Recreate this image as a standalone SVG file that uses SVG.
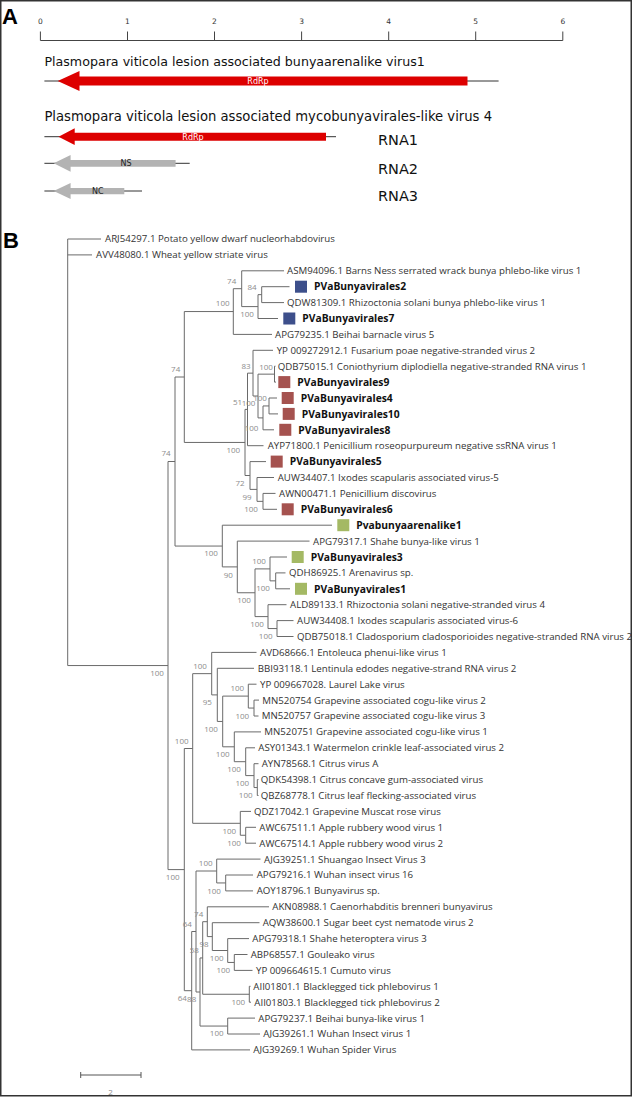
<svg xmlns="http://www.w3.org/2000/svg" width="633" height="1097" viewBox="0 0 633 1097">
<style>
.lf{font-family:"Open Sans","Noto Sans",sans-serif;font-size:9.7px;fill:#333}
.pv{font-family:"Open Sans","Noto Sans",sans-serif;font-size:10.3px;font-weight:bold;fill:#111}
.bs{font-family:"Open Sans","Noto Sans",sans-serif;font-size:8px;fill:#8c8c8c;text-anchor:middle}
.br{fill:none;stroke:#6a6a6a;stroke-width:1}
.ttl{font-family:"DejaVu Sans",sans-serif;font-size:12.65px;fill:#111}
.rna{font-family:"DejaVu Sans",sans-serif;font-size:14.5px;fill:#111}
.gl{font-family:"DejaVu Sans",sans-serif;font-size:8px;text-anchor:middle}
.pl{font-family:"Liberation Sans",Arial,sans-serif;font-size:22px;font-weight:bold;fill:#000}
.ax{font-family:"DejaVu Sans",sans-serif;font-size:7.5px;fill:#333;text-anchor:middle}
.sb{fill:#3d4f8b}.sr{fill:#a5524f}.sg{fill:#a4b964}
</style>
<rect x="0.75" y="0.75" width="630.5" height="1095" fill="#fff" stroke="#333" stroke-width="1.5"/>

<!-- Panel A -->
<text class="pl" x="2" y="24">A</text>
<g id="ruler">
<path d="M40.4,40.5H562.8M40.4,31.5V40.5M127.5,31.5V40.5M214.5,31.5V40.5M301.6,31.5V40.5M388.7,31.5V40.5M475.7,31.5V40.5M562.8,31.5V40.5" fill="none" stroke="#444" stroke-width="1"/>
<text class="ax" x="40.4" y="23.5">0</text>
<text class="ax" x="127.5" y="23.5">1</text>
<text class="ax" x="214.5" y="23.5">2</text>
<text class="ax" x="301.6" y="23.5">3</text>
<text class="ax" x="388.7" y="23.5">4</text>
<text class="ax" x="475.7" y="23.5">5</text>
<text class="ax" x="562.8" y="23.5">6</text>
</g>
<g id="virus1">
<text class="ttl" x="44.4" y="66">Plasmopara viticola lesion associated bunyaarenalike virus1</text>
<path d="M44.4,81H498.6" stroke="#333" stroke-width="1"/>
<polygon points="57.7,81 79.5,71 79.5,76.5 467.5,76.5 467.5,85.5 79.5,85.5 79.5,91" fill="#dd0000"/>
<text class="gl" x="258" y="84" fill="#fff">RdRp</text>
</g>
<g id="virus4">
<text class="ttl" x="44.4" y="121" style="font-size:13.2px">Plasmopara viticola lesion associated mycobunyavirales-like virus 4</text>
<path d="M44.4,136.7H336" stroke="#333" stroke-width="1"/>
<polygon points="58.5,136.7 74.7,128.3 74.7,132.7 326,132.7 326,140.7 74.7,140.7 74.7,145" fill="#dd0000"/>
<text class="gl" x="193" y="139.7" fill="#fff">RdRp</text>
<text class="rna" x="378" y="144.5">RNA1</text>
<path d="M44.4,163.3H189.7" stroke="#333" stroke-width="1"/>
<polygon points="53.7,163.3 70.6,155 70.6,160 175.6,160 175.6,166.7 70.6,166.7 70.6,171.7" fill="#b3b3b3"/>
<text class="gl" x="126" y="166.3" fill="#222">NS</text>
<text class="rna" x="378" y="173.5">RNA2</text>
<path d="M44.4,191H142" stroke="#333" stroke-width="1"/>
<polygon points="53.7,191 70.6,183 70.6,188 124.3,188 124.3,194.3 70.6,194.3 70.6,199" fill="#b3b3b3"/>
<text class="gl" x="97.7" y="194" fill="#222">NC</text>
<text class="rna" x="378" y="201.3">RNA3</text>
</g>

<!-- Panel B -->
<text class="pl" x="3" y="247.5">B</text>
<g id="connectors" class="br">
<path d="M67.7,239V665.55M67.7,239H101M67.7,254.9H92M67.7,665.55H168"/>
<path d="M168,461.5V869.6M168,461.5H175M168,869.6H184.3"/>
<path d="M175,377V546.05M175,377H184.3M175,546.05H222.3"/>
<path d="M184.3,311.55V442.45H245M184.3,311.55H233.3"/>
<path d="M233.3,288.7V334.4H272M233.3,288.7H241.7"/>
<path d="M241.7,270.8V306.6H258M241.7,270.8H284"/>
<path d="M258,294.65V318.5H278M258,294.65H261.7"/>
<path d="M261.7,286.7V302.6H284M261.7,286.7H289.5"/>
<path d="M245,409.4V475.5H250M245,409.4H247.5"/>
<path d="M247.5,373.15V445.7H263.5M247.5,373.15H253"/>
<path d="M253,350.3V396H258M253,350.3H273"/>
<path d="M258,374.15V417.9H263M258,374.15H274.5"/>
<path d="M274.5,366.2V382.1H276M274.5,366.2H275.5"/>
<path d="M263,405.95V429.8H274M263,405.95H269"/>
<path d="M269,398V413.9H278M269,398H277"/>
<path d="M250,461.6V489.4H257M250,461.6H266"/>
<path d="M257,477.5V501.35H263M257,477.5H274"/>
<path d="M263,493.4V509.3H277M263,493.4H275.5"/>
<path d="M222.3,525.2V566.9H237.3M222.3,525.2H332"/>
<path d="M237.3,541.1V592.75H255M237.3,541.1H309.5"/>
<path d="M255,568.9V616.6H268M255,568.9H270"/>
<path d="M270,557V580.85H275.7M270,557H287"/>
<path d="M275.7,572.9V588.8H290M275.7,572.9H285.5"/>
<path d="M268,604.7V628.55H277M268,604.7H286.5"/>
<path d="M277,620.6V636.5H293.5M277,620.6H293.5"/>
<path d="M184.3,748.5V990.7H191.7M184.3,748.5H192.7"/>
<path d="M192.7,673.65V823.3H240.3M192.7,673.65H211.7"/>
<path d="M211.7,652.4V694.9H217.3M211.7,652.4H256.5"/>
<path d="M217.3,668.3V721.45H222.7M217.3,668.3H254"/>
<path d="M222.7,696.1V746.8H234.3M222.7,696.1H248.3"/>
<path d="M248.3,684.2V708.05H254M248.3,684.2H256.5"/>
<path d="M254,700.1V716H258.5M254,700.1H259"/>
<path d="M234.3,731.9V761.7H245.7M234.3,731.9H261"/>
<path d="M245.7,747.8V775.6H254M245.7,747.8H255"/>
<path d="M254,763.7V787.55H257.3M254,763.7H258.5"/>
<path d="M257.3,779.6V795.5H258.5M257.3,779.6H258.5"/>
<path d="M240.3,811.4V835.25H245.7M240.3,811.4H251"/>
<path d="M245.7,827.3V843.2H256M245.7,827.3H256"/>
<path d="M191.7,931.5V1049.9H250M191.7,931.5H196"/>
<path d="M196,871V992H200M196,871H216.7"/>
<path d="M216.7,859.1V882.95H225.7M216.7,859.1H260.5"/>
<path d="M225.7,875V890.9H253M225.7,875H253"/>
<path d="M200,957.95V1026.05H227.7M200,957.95H202.7"/>
<path d="M202.7,921.7V994.25H249.3M202.7,921.7H207.3"/>
<path d="M207.3,906.8V936.6H212.3M207.3,906.8H269"/>
<path d="M212.3,922.7V950.5H227.7M212.3,922.7H259.5"/>
<path d="M227.7,938.6V962.45H234.3M227.7,938.6H249"/>
<path d="M234.3,954.5V970.4H252.5M234.3,954.5H247.5"/>
<path d="M249.3,986.3V1002.2H251M249.3,986.3H250.5"/>
<path d="M227.7,1018.1V1034H260M227.7,1018.1H255"/>
</g>

<g id="bootstrap">
<text class="bs" x="231.7" y="284">74</text>
<text class="bs" x="252" y="290">84</text>
<text class="bs" x="222.7" y="306.2">100</text>
<text class="bs" x="247" y="317">100</text>
<text class="bs" x="175.7" y="372.2">74</text>
<text class="bs" x="246" y="369">83</text>
<text class="bs" x="266" y="370">100</text>
<text class="bs" x="237.5" y="404.5">51</text>
<text class="bs" x="248.5" y="406">100</text>
<text class="bs" x="260" y="401.2">100</text>
<text class="bs" x="251.5" y="431">100</text>
<text class="bs" x="233.3" y="453">100</text>
<text class="bs" x="240" y="486">72</text>
<text class="bs" x="247" y="500">99</text>
<text class="bs" x="251" y="512">100</text>
<text class="bs" x="166" y="456">74</text>
<text class="bs" x="211" y="556">100</text>
<text class="bs" x="228.3" y="578">90</text>
<text class="bs" x="259" y="564">100</text>
<text class="bs" x="263" y="591">100</text>
<text class="bs" x="244" y="603">100</text>
<text class="bs" x="257" y="627">100</text>
<text class="bs" x="265.7" y="639">100</text>
<text class="bs" x="157" y="675.6">100</text>
<text class="bs" x="200" y="669">100</text>
<text class="bs" x="207.3" y="705">95</text>
<text class="bs" x="237.3" y="691.2">100</text>
<text class="bs" x="242.3" y="718.6">100</text>
<text class="bs" x="211" y="732">100</text>
<text class="bs" x="181.7" y="743.6">100</text>
<text class="bs" x="222.7" y="757">100</text>
<text class="bs" x="234" y="772">100</text>
<text class="bs" x="242.3" y="786.2">100</text>
<text class="bs" x="245.7" y="798">100</text>
<text class="bs" x="229.3" y="833.6">100</text>
<text class="bs" x="234" y="845.6">100</text>
<text class="bs" x="172.7" y="879.6">100</text>
<text class="bs" x="205.7" y="866.2">100</text>
<text class="bs" x="214" y="893.6">100</text>
<text class="bs" x="198.7" y="917">74</text>
<text class="bs" x="187.3" y="927">64</text>
<text class="bs" x="204" y="947">98</text>
<text class="bs" x="194.3" y="953">58</text>
<text class="bs" x="216.7" y="961.2">100</text>
<text class="bs" x="223.3" y="973">100</text>
<text class="bs" x="238.3" y="1004.6">100</text>
<text class="bs" x="182.3" y="1000.6">64</text>
<text class="bs" x="191.7" y="1002">88</text>
<text class="bs" x="216.7" y="1036">100</text>
</g>

<g id="leaves">
<g id="ARJ54297"><text class="lf" x="105" y="242.4">ARJ54297.1 Potato yellow dwarf nucleorhabdovirus</text></g>
<g id="AVV48080"><text class="lf" x="96" y="258.3">AVV48080.1 Wheat yellow striate virus</text></g>
<g id="ASM94096"><text class="lf" x="287" y="274.2">ASM94096.1 Barns Ness serrated wrack bunya phlebo-like virus 1</text></g>
<g id="PVaBunyavirales2"><rect class="sb" x="295" y="280.7" width="12" height="12"/><text class="pv" x="314" y="290.4">PVaBunyavirales2</text></g>
<g id="QDW81309"><text class="lf" x="287" y="306">QDW81309.1 Rhizoctonia solani bunya phlebo-like virus 1</text></g>
<g id="PVaBunyavirales7"><rect class="sb" x="283.3" y="312.5" width="12" height="12"/><text class="pv" x="302.3" y="322.2">PVaBunyavirales7</text></g>
<g id="APG79235"><text class="lf" x="275" y="337.8">APG79235.1 Beihai barnacle virus 5</text></g>
<g id="YP009272912"><text class="lf" x="276.7" y="353.7">YP 009272912.1 Fusarium poae negative-stranded virus 2</text></g>
<g id="QDB75015"><text class="lf" x="277.7" y="369.6">QDB75015.1 Coniothyrium diplodiella negative-stranded RNA virus 1</text></g>
<g id="PVaBunyavirales9"><rect class="sr" x="278.3" y="376.1" width="12" height="12"/><text class="pv" x="297.3" y="385.8">PVaBunyavirales9</text></g>
<g id="PVaBunyavirales4"><rect class="sr" x="281.7" y="392" width="12" height="12"/><text class="pv" x="300.7" y="401.7">PVaBunyavirales4</text></g>
<g id="PVaBunyavirales10"><rect class="sr" x="282.7" y="407.9" width="12" height="12"/><text class="pv" x="301.7" y="417.6">PVaBunyavirales10</text></g>
<g id="PVaBunyavirales8"><rect class="sr" x="279.3" y="423.8" width="12" height="12"/><text class="pv" x="298.3" y="433.5">PVaBunyavirales8</text></g>
<g id="AYP71800"><text class="lf" x="267.7" y="449.1">AYP71800.1 Penicillium roseopurpureum negative ssRNA virus 1</text></g>
<g id="PVaBunyavirales5"><rect class="sr" x="270.7" y="455.6" width="12" height="12"/><text class="pv" x="289.7" y="465.3">PVaBunyavirales5</text></g>
<g id="AUW34407"><text class="lf" x="277.7" y="480.9">AUW34407.1 Ixodes scapularis associated virus-5</text></g>
<g id="AWN00471"><text class="lf" x="279" y="496.8">AWN00471.1 Penicillium discovirus</text></g>
<g id="PVaBunyavirales6"><rect class="sr" x="281.7" y="503.3" width="12" height="12"/><text class="pv" x="300.7" y="513">PVaBunyavirales6</text></g>
<g id="Pvabunyaarenalike1"><rect class="sg" x="337.3" y="519.2" width="12" height="12"/><text class="pv" x="356.3" y="528.9">Pvabunyaarenalike1</text></g>
<g id="APG79317"><text class="lf" x="313" y="544.5">APG79317.1 Shahe bunya-like virus 1</text></g>
<g id="PVaBunyavirales3"><rect class="sg" x="291.7" y="551" width="12" height="12"/><text class="pv" x="310.7" y="560.7">PVaBunyavirales3</text></g>
<g id="QDH86925"><text class="lf" x="289" y="576.3">QDH86925.1 Arenavirus sp.</text></g>
<g id="PVaBunyavirales1"><rect class="sg" x="295" y="582.8" width="12" height="12"/><text class="pv" x="314" y="592.5">PVaBunyavirales1</text></g>
<g id="ALD89133"><text class="lf" x="290" y="608.1">ALD89133.1 Rhizoctonia solani negative-stranded virus 4</text></g>
<g id="AUW34408"><text class="lf" x="297" y="624">AUW34408.1 Ixodes scapularis associated virus-6</text></g>
<g id="QDB75018"><text class="lf" x="297" y="639.9">QDB75018.1 Cladosporium cladosporioides negative-stranded RNA virus 2</text></g>
<g id="AVD68666"><text class="lf" x="260" y="655.8">AVD68666.1 Entoleuca phenui-like virus 1</text></g>
<g id="BBI93118"><text class="lf" x="257.7" y="671.7">BBI93118.1 Lentinula edodes negative-strand RNA virus 2</text></g>
<g id="YP009667028"><text class="lf" x="260" y="687.6">YP 009667028. Laurel Lake virus</text></g>
<g id="MN520754"><text class="lf" x="262.3" y="703.5">MN520754 Grapevine associated cogu-like virus 2</text></g>
<g id="MN520757"><text class="lf" x="261.7" y="719.4">MN520757 Grapevine associated cogu-like virus 3</text></g>
<g id="MN520751"><text class="lf" x="264.3" y="735.3">MN520751 Grapevine associated cogu-like virus 1</text></g>
<g id="ASY01343"><text class="lf" x="258.3" y="751.2">ASY01343.1 Watermelon crinkle leaf-associated virus 2</text></g>
<g id="AYN78568"><text class="lf" x="261.7" y="767.1">AYN78568.1 Citrus virus A</text></g>
<g id="QDK54398"><text class="lf" x="260.7" y="783">QDK54398.1 Citrus concave gum-associated virus</text></g>
<g id="QBZ68778"><text class="lf" x="260.7" y="798.9">QBZ68778.1 Citrus leaf flecking-associated virus</text></g>
<g id="QDZ17042"><text class="lf" x="254" y="814.8">QDZ17042.1 Grapevine Muscat rose virus</text></g>
<g id="AWC67511"><text class="lf" x="259.3" y="830.7">AWC67511.1 Apple rubbery wood virus 1</text></g>
<g id="AWC67514"><text class="lf" x="259.3" y="846.6">AWC67514.1 Apple rubbery wood virus 2</text></g>
<g id="AJG39251"><text class="lf" x="264" y="862.5">AJG39251.1 Shuangao Insect Virus 3</text></g>
<g id="APG79216"><text class="lf" x="256.7" y="878.4">APG79216.1 Wuhan insect virus 16</text></g>
<g id="AOY18796"><text class="lf" x="256.7" y="894.3">AOY18796.1 Bunyavirus sp.</text></g>
<g id="AKN08988"><text class="lf" x="272.3" y="910.2">AKN08988.1 Caenorhabditis brenneri bunyavirus</text></g>
<g id="AQW38600"><text class="lf" x="262.7" y="926.1">AQW38600.1 Sugar beet cyst nematode virus 2</text></g>
<g id="APG79318"><text class="lf" x="252.3" y="942">APG79318.1 Shahe heteroptera virus 3</text></g>
<g id="ABP68557"><text class="lf" x="250.7" y="957.9">ABP68557.1 Gouleako virus</text></g>
<g id="YP009664615"><text class="lf" x="256" y="973.8">YP 009664615.1 Cumuto virus</text></g>
<g id="AII01801"><text class="lf" x="253.3" y="989.7">AII01801.1 Blacklegged tick phlebovirus 1</text></g>
<g id="AII01803"><text class="lf" x="254.3" y="1005.6">AII01803.1 Blacklegged tick phlebovirus 2</text></g>
<g id="APG79237"><text class="lf" x="258.3" y="1021.5">APG79237.1 Beihai bunya-like virus 1</text></g>
<g id="AJG39261"><text class="lf" x="263.3" y="1037.4">AJG39261.1 Wuhan Insect virus 1</text></g>
<g id="AJG39269"><text class="lf" x="253.3" y="1053.3">AJG39269.1 Wuhan Spider Virus</text></g>
</g>

<g id="scalebar">
<path d="M80.7,1075H141M80.7,1072V1078M141,1072V1078" fill="none" stroke="#555" stroke-width="1"/>
<text class="bs" x="110.5" y="1094.5">2</text>
</g>
</svg>
